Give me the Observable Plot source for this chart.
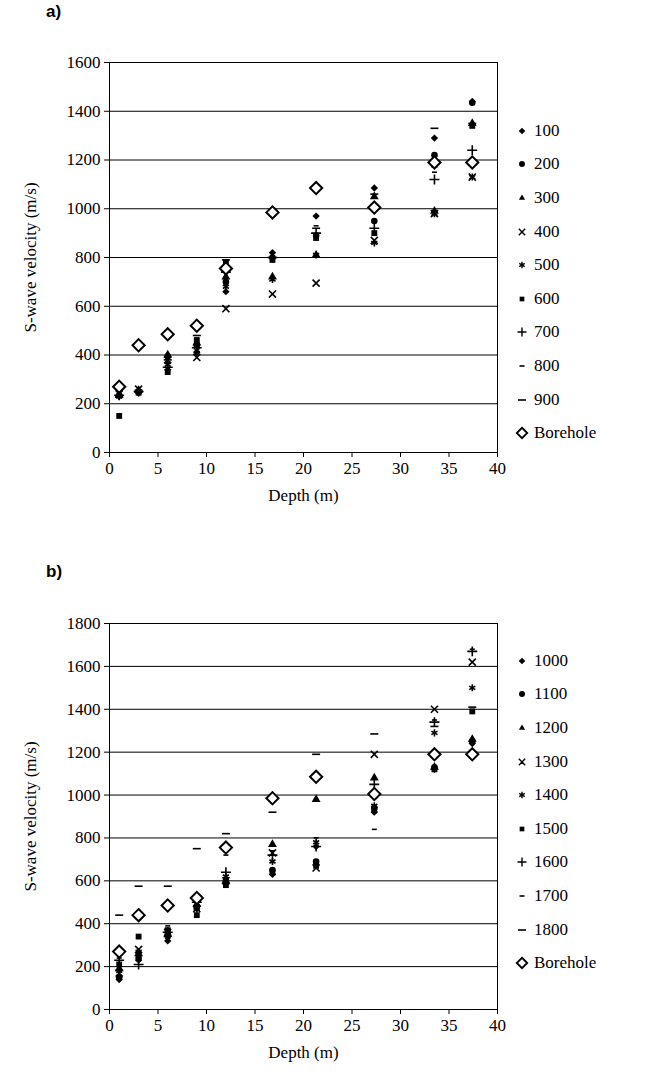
<!DOCTYPE html>
<html><head><meta charset="utf-8">
<script src="https://cdn.jsdelivr.net/npm/d3@7"></script>
<script src="https://cdn.jsdelivr.net/npm/@observablehq/plot@0.6"></script>
<style>
body{margin:0;background:#fff;font-family:"Liberation Serif",serif;}
.panel{position:absolute;left:0;}
.tag{position:absolute;left:46px;font:bold 17px "Liberation Sans",sans-serif;}
.legend{position:absolute;left:515px;font:17px "Liberation Serif",serif;}
.legend div{height:33.6px;display:flex;align-items:center;}
</style></head><body>
<div class="tag" style="top:2px">a)</div>
<div id="a" class="panel" style="top:40px"></div>
<div id="la" class="legend" style="top:114px"></div>
<div class="tag" style="top:562px">b)</div>
<div id="b" class="panel" style="top:600px"></div>
<div id="lb" class="legend" style="top:644px"></div>
<script>
const depth = [1, 3, 6, 9, 12, 16.8, 21.3, 27.3, 33.5, 37.4];
const borehole = [270, 440, 485, 520, 755, 985, 1085, 1005, 1190, 1190];
const namesA = ["100","200","300","400","500","600","700","800","900"];
const valuesA = [
  [230,245,340,410,660,820,970,1085,1290,1440],
  [235,250,395,440,700,800,890,950,1220,1435],
  [235,255,400,450,720,720,810,1050,990,1350],
  [240,260,380,390,590,650,695,870,980,1130],
  [230,250,360,420,680,710,810,860,980,1130],
  [150,245,330,460,780,790,880,900,1180,1340],
  [235,250,350,430,740,800,900,920,1120,1240],
  [230,250,370,470,790,800,930,1000,1150,1350],
  [230,255,380,480,790,800,920,1060,1330,1350]
];
const namesB = ["1000","1100","1200","1300","1400","1500","1600","1700","1800"];
const valuesB = [
  [140,230,320,470,590,630,760,920,1120,1240],
  [150,240,340,480,600,650,690,940,1130,1250],
  [190,260,350,490,600,770,980,1080,1130,1260],
  [170,280,360,470,600,730,660,1190,1400,1620],
  [180,270,360,470,620,690,780,950,1290,1500],
  [210,340,370,440,580,640,670,930,1120,1390],
  [230,210,360,500,640,720,760,1050,1340,1670],
  [240,260,390,500,720,740,800,840,1350,1680],
  [440,575,575,750,820,920,1190,1285,1320,1410]
];

const dash = w => ({draw(c, size) { const h = 1.6; c.rect(-w / 2, -h / 2, w, h); }});
const symbols = ["diamond2", "circle", "triangle", "times", "asterisk", "square", "plus", dash(5), dash(8)];
const filled = [true, true, true, false, false, true, false, true, true];

function chart(el, leg, names, values, ymax, mt, mb, h) {
  const rows = [];
  values.forEach((vs, i) => vs.forEach((v, j) => rows.push({d: depth[j], v, i})));
  const bh = depth.map((d, j) => ({d, v: borehole[j]}));
  const marks = [
    Plot.ruleY(d3.range(200, ymax, 200), {stroke: "#000", strokeWidth: 1}),
    Plot.frame({stroke: "#000"}),
    Plot.axisX({ticks: d3.range(0, 41, 5), tickFormat: d3.format("d"), tickSize: 5, fontSize: 17, label: "Depth (m)", labelAnchor: "center", labelArrow: "none", labelOffset: 48}),
    Plot.axisY({ticks: d3.range(0, ymax + 1, 200), tickFormat: d3.format("d"), tickSize: 5, fontSize: 17, label: "S-wave velocity (m/s)", labelAnchor: "center", labelArrow: "none", labelOffset: 86})
  ];
  names.forEach((n, i) => {
    marks.push(Plot.dot(rows.filter(r => r.i === i), {x: "d", y: "v", symbol: () => symbols[i], r: 3.3,
      fill: filled[i] ? "#000" : "none", stroke: filled[i] ? "none" : "#000", strokeWidth: 1.6}));
  });
  marks.push(Plot.dot(bh, {x: "d", y: "v", symbol: "diamond2", r: 5.5, fill: "#fff", stroke: "#000", strokeWidth: 2}));
  const p = Plot.plot({
    width: 510, height: h, marginLeft: 109, marginRight: 13, marginTop: mt, marginBottom: mb,
    style: {fontFamily: "Liberation Serif", fontSize: "17px", color: "#000"},
    x: {domain: [0, 40]}, y: {domain: [0, ymax]},
    symbol: {type: "identity"},
    marks
  });
  document.getElementById(el).append(p);
  const L = d3.select("#" + leg);
  const all = names.map((n, i) => [n, symbols[i], filled[i]]).concat([["Borehole", "diamond2", false]]);
  all.forEach(([n, s, f], k) => {
    const row = L.append("div");
    const sv = row.append("svg").attr("width", 14).attr("height", 14).style("margin-right", "5px");
    const sym = typeof s === "string" ? {diamond2: d3.symbolDiamond2, circle: d3.symbolCircle, triangle: d3.symbolTriangle2, times: d3.symbolTimes, asterisk: d3.symbolAsterisk, square: d3.symbolSquare2, plus: d3.symbolPlus}[s] : s;
    const big = k === all.length - 1;
    sv.append("path").attr("transform", "translate(7,7)")
      .attr("d", d3.symbol(sym, big ? 70 : 28)())
      .attr("fill", f ? "#000" : (big ? "#fff" : "none")).attr("stroke", f ? "none" : "#000").attr("stroke-width", big ? 1.8 : 1.4);
    row.append("span").text(n);
  });
}
chart("a", "la", namesA, valuesA, 1600, 22, 68, 480);
chart("b", "lb", namesB, valuesB, 1800, 23, 61, 470);
</script></body></html>
